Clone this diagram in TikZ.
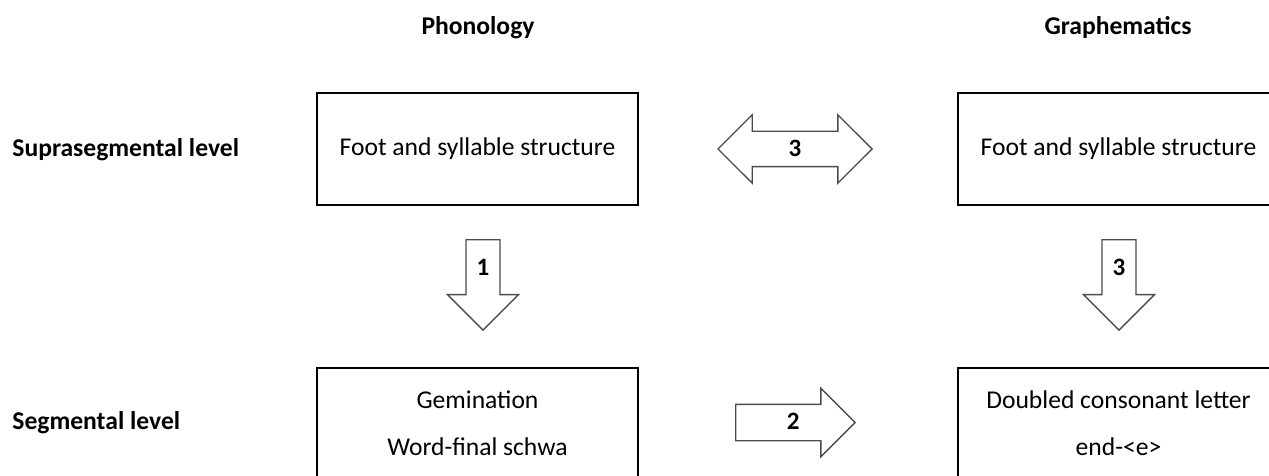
\documentclass[tikz,border=0pt]{standalone}
\usepackage{fontspec}
\setmainfont{Carlito}
\usetikzlibrary{shapes.arrows}

\begin{document}
\begin{tikzpicture}[x=0.5pt,y=-0.5pt,
  font=\fontsize{12.8}{15}\selectfont,
  box/.style={draw,line width=1pt,minimum width=160.5pt,minimum height=56pt,align=center},
  fat/.style={draw=black!70,line width=0.7pt,font=\fontsize{12.5}{15}\selectfont\bfseries},
  levellabel/.style={font=\fontsize{12.8}{15}\selectfont\bfseries,anchor=west,inner sep=0pt}]
  \useasboundingbox (0,0) rectangle (1269,476);
  \clip (0,0) rectangle (1269,476);

  %% Column headings
  \node[font=\fontsize{12.8}{15}\selectfont\bfseries] (PHON) at (478,28) {Phonology};
  \node[font=\fontsize{12.8}{15}\selectfont\bfseries] (GRAPH) at (1118,28) {Graphematics};

  %% Row headings
  \node[levellabel] (SUPRA) at (12,150) {Suprasegmental level};
  \node[levellabel] (SEG) at (12,423) {Segmental level};

  %% The four boxes
  \node[box] (PS) at (477.5,149) {Foot and syllable structure};
  \node[box] (GS) at (1118.5,149) {Foot and syllable structure};
  \node[box] (PG) at (477.5,423.5) {Gemination\\[8.5pt]Word-final schwa};
  \node[box] (GG) at (1118.5,423.5) {Doubled consonant letter\\[8.5pt]end-<e>};

  %% Block arrows
  \node[fat,double arrow,double arrow head extend=8.25pt,minimum height=77pt,
    text height=7pt,text depth=0pt,inner ysep=5pt] (A3) at (795,149) {3};
  \node[fat,single arrow,single arrow head extend=8pt,anchor=tail,
    text height=7pt,text depth=0pt,inner ysep=5.25pt,
    text width=13.3pt,align=right,inner xsep=18.3pt] (A2) at (735,422.5) {2};
  \foreach \x/\n in {483/1,1119/3}
  {
    \node[fat,single arrow,single arrow head extend=9.25pt,shape border rotate=270,
      anchor=tail,text height=15.7pt,text depth=16.3pt,inner ysep=2pt,inner xsep=5pt]
      (D\n) at (\x,239) {\n};
  }
\end{tikzpicture}
\end{document}
